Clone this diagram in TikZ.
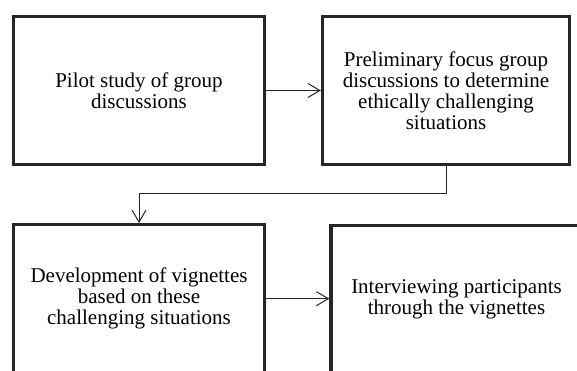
\documentclass[tikz,border=0pt]{standalone}
\usepackage{fontspec}
\setmainfont{Liberation Serif}
\usetikzlibrary{arrows.meta}
\begin{document}
\begin{tikzpicture}[x=1pt,y=-1pt,
  box/.style={draw=black!85, line width=3.3pt, minimum width=251pt, minimum height=148pt,
    align=center, inner sep=0pt, font=\fontsize{21}{21}\selectfont},
  arr/.style={draw=black!85, line width=1pt, -{Straight Barb[length=12pt,width=14pt,line width=1pt]}}]
\useasboundingbox (0,0) rectangle (577,370);
\begin{scope}
\clip (0,0) rectangle (577,370);
\node[box] (b1) at (139,90.5) {Pilot study of group\\discussions};
\node[box, minimum width=247pt] (b2) at (446,90.5) {Preliminary focus group\\discussions to determine\\ethically challenging\\situations};
\node[box] (b3) at (139,298.7) {Development of vignettes\\based on these\\challenging situations};
\node[box] (b4) at (456.5,299.7) {Interviewing participants\\through the vignettes};
\draw[arr] (b1.east) -- (b1.east -| b2.west);
\draw[arr] (b2.south) -- ++(0,27.5) -| (b3.north);
\draw[arr] (b3.east) -- (b3.east -| b4.west);
\end{scope}
\end{tikzpicture}
\end{document}
